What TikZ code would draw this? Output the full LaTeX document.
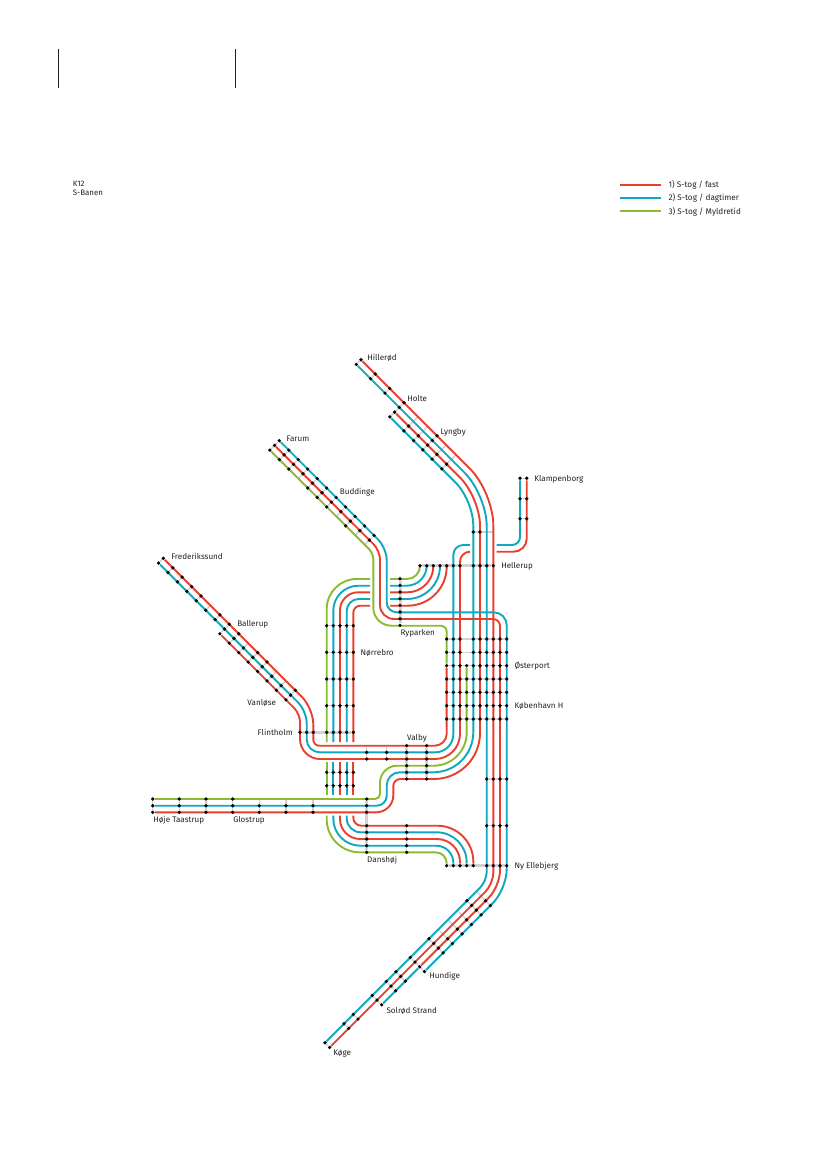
\documentclass[tikz,border=0pt]{standalone}
\usepackage{fontspec}
\setmainfont{Fira Sans}
\usetikzlibrary{positioning}
\definecolor{fastred}{HTML}{E8402F}
\definecolor{dagcyan}{HTML}{0FA8BE}
\definecolor{mykgreen}{HTML}{8DBB2F}
\definecolor{tiegrey}{HTML}{D2D2D2}
\definecolor{inkgrey}{HTML}{222222}
\pgfdeclarelayer{ties}
\pgfdeclarelayer{tracks}
\pgfsetlayers{ties,tracks,main}

\begin{document}
\begin{tikzpicture}[
  x=1pt, y=-1pt,
  stop/.style={circle, fill=black, inner sep=0pt, minimum size=3.7pt},
  tie/.style={draw=tiegrey, line width=1.5pt},
  band/.style={draw=tiegrey, line width=3pt},
  fasttrack/.style={draw=fastred, line width=1.9pt},
  dagtrack/.style={draw=dagcyan, line width=1.9pt},
  myktrack/.style={draw=mykgreen, line width=1.9pt},
  rc/.style={rounded corners=#1pt},
  lbl/.style={inner sep=0pt, text height=7.2pt, text depth=1.6pt, text=inkgrey, font=\fontsize{8.1}{9}\selectfont},
  headrule/.style={draw=inkgrey, line width=0.8pt}
]
\useasboundingbox (0,0) rectangle (827,1169);

% stops on the four diagonals
\foreach \k/\t/\last/\on in {0/361/1/{0,1}, 1/375.3/1/{0,1}, 2/389.7/1/{0,1}, 3/404/3/{0,1,2,3}, 4/418/3/{2,3}, 5/427.7/3/{2,3}, 6/437/3/{0,1,2,3}, 7/446.3/3/{2,3}, 8/456/3/{2,3}} {
  \foreach \i in {0,...,\last} {\coordinate (hil-\k-\i) at ({\t-4.714*\i},{\t-1.3+4.714*\i});}
  \foreach \i in \on {\node[stop] (hil-\k-\i) at (hil-\k-\i) {};}
  \begin{pgfonlayer}{ties}\draw[tie] (hil-\k-0) -- (hil-\k-\last);\end{pgfonlayer}
}
\foreach \k/\on in {0/{0,1,2}, 1/{0,1,2}, 2/{0,1,2}, 3/{0,1}, 4/{0,1,2}, 5/{0,1,2}, 6/{0,1,2}, 7/{0,1}, 8/{0,1,2}, 9/{0,1}, 10/{0,1}} {
  \foreach \i in {0,1,2} {\coordinate (far-\k-\i) at ({279.3+9.47*\k-4.714*\i},{440.7+9.47*\k+4.714*\i});}
  \foreach \i in \on {\node[stop] (far-\k-\i) at (far-\k-\i) {};}
  \begin{pgfonlayer}{ties}\draw[tie] (far-\k-0) -- (far-\k-2);\end{pgfonlayer}
}
\foreach \k/\last/\on in {0/1/{0,1}, 1/1/{0,1}, 2/1/{0,1}, 3/1/{0,1}, 4/1/{0,1}, 5/1/{1}, 6/1/{0,1}, 7/2/{0,1,2}, 8/2/{0,1,2}, 9/2/{1,2}, 10/2/{0,1,2}, 11/2/{0,1,2}, 12/2/{1,2}, 13/2/{1,2}, 14/2/{0,1,2}} {
  \foreach \i in {0,...,\last} {\coordinate (fre-\k-\i) at ({163.3+9.43*\k-4.714*\i},{558.3+9.43*\k+4.714*\i});}
  \foreach \i in \on {\node[stop] (fre-\k-\i) at (fre-\k-\i) {};}
  \begin{pgfonlayer}{ties}\draw[tie] (fre-\k-0) -- (fre-\k-\last);\end{pgfonlayer}
}
\foreach \k/\t/\last/\on in {0/325/1/{0,1}, 1/344/1/{0,1}, 2/353.3/1/{0,1}, 3/372.3/2/{0,1,2}, 4/386.3/2/{0,1,2}, 5/396/2/{0,1,2}, 6/410.3/3/{0,1,2,3}, 7/429/3/{0,1,2,3}, 8/438.3/3/{2,3}, 9/448/3/{2,3}, 10/457.3/3/{2,3}, 11/467/3/{0,1,2,3}, 12/476.3/3/{2,3}} {
  \foreach \i in {0,...,\last} {\coordinate (koe-\k-\i) at ({\t+4.714*\i},{1367.7-\t+4.714*\i});}
  \foreach \i in \on {\node[stop] (koe-\k-\i) at (koe-\k-\i) {};}
  \begin{pgfonlayer}{ties}\draw[tie] (koe-\k-0) -- (koe-\k-\last);\end{pgfonlayer}
}

% stops on the rows and columns
\foreach \r/\y/\first/\kind/\on in {0/639/0/tie/{0,1,2,4,5,6,7,8,9}, 1/652.3/0/tie/{0,1,2,4,5,6,7,8,9}, 2/665.7/0/tie/{0,...,9}, 3/679/0/tie/{0,...,9}, 4/692.3/0/tie/{0,...,9}, 5/705.7/0/tie/{0,...,9}, 6/719/0/tie/{0,...,9}, 7/779/6/tie/{6,...,9}, 8/825.7/6/tie/{6,...,9}, 9/865.7/0/band/{0,1,2,3,4,6,7,8,9}} {
  \foreach \c in \on {\node[stop] (est-\r-\c) at ({446.67+6.667*\c},\y) {};}
  \begin{pgfonlayer}{ties}\draw[\kind] (est-\r-\first) -- (est-\r-9);\end{pgfonlayer}
}
\foreach \r/\y in {0/625.7, 1/652.3, 2/679, 3/705.7, 4/732.3, 5/772.3, 6/785.7} {
  \foreach \c in {0,...,4} {\node[stop] (wes-\r-\c) at ({326.67+6.667*\c},\y) {};}
  \begin{pgfonlayer}{ties}\draw[tie] (wes-\r-0) -- (wes-\r-4);\end{pgfonlayer}
}
\foreach \c/\x in {0/300, 1/306.7, 2/313.3} {\node[stop] (fli-\c) at (\x,732.3) {};}
\foreach \c/\x in {0/420, 1/426.7, 2/433.3, 3/440, 4/446.7, 5/453.3, 6/460, 7/473.3, 8/480, 9/486.7, 10/493.3} {\node[stop] (hel-\c) at (\x,565.7) {};}
\foreach \r in {0,...,7} {\node[stop] (ryp-\r) at (400,{578.7+6.667*\r}) {};}
\foreach \r/\y in {0/478.3, 1/498.7, 2/518.7} {
  \node[stop] (kla-\r-0) at (520,\y) {};
  \node[stop] (kla-\r-1) at (526.7,\y) {};
  \begin{pgfonlayer}{ties}\draw[tie] (kla-\r-0) -- (kla-\r-1);\end{pgfonlayer}
}
\node[stop] (sto-0) at (473.3,532) {};
\node[stop] (sto-1) at (480,532) {};
\coordinate (sto-2) at (493.3,532);
\foreach \c/\x in {0/406.67, 1/426.67} {
  \foreach \r in {0,...,5} {\node[stop] (val-\c-\r) at (\x,{745.67+6.667*\r}) {};}
  \begin{pgfonlayer}{ties}\draw[band] (val-\c-0) -- (val-\c-5);\end{pgfonlayer}
}
\foreach \c/\x in {2/366.67, 3/386.67} {
  \coordinate (val-\c-0) at (\x,745.67);
  \node[stop] (val-\c-1) at (\x,752.33) {};
  \node[stop] (val-\c-2) at (\x,759) {};
  \begin{pgfonlayer}{ties}\draw[tie] (val-\c-0) -- (val-\c-2);\end{pgfonlayer}
}
\foreach \k/\x/\on in {0/152.7/{0,1,2}, 1/179.3/{0,1,2}, 2/206/{0,1,2}, 3/232.7/{0,1,2}, 4/259.3/{1,2}, 5/286/{1,2}, 6/313/{1,2}} {
  \foreach \r/\y in {0/799, 1/805.7, 2/812.3} {\coordinate (hoj-\k-\r) at (\x,\y);}
  \foreach \r in \on {\node[stop] (hoj-\k-\r) at (hoj-\k-\r) {};}
  \begin{pgfonlayer}{ties}\draw[tie] (hoj-\k-0) -- (hoj-\k-2);\end{pgfonlayer}
}
\foreach \r/\y in {0/799, 1/805.7, 2/812.3, 3/825.7, 4/832.3, 5/839, 6/845.7, 7/852.3} {\node[stop] (dan-\r) at (366.67,\y) {};}
\foreach \r/\y in {0/825.7, 1/832.3, 2/839, 3/845.7, 4/852.3} {\node[stop] (dal-\r) at (406.67,\y) {};}

\begin{pgfonlayer}{ties}
  \draw[band] (fli-0) -- (wes-4-4);
  \draw[band] (hel-0) -- (hel-10);
  \draw[band] (ryp-0) -- (ryp-7);
  \draw[tie] (sto-0) -- (sto-2);
  \draw[band] (dan-0) -- (dan-7);
  \draw[tie] (dal-0) -- (dal-4);
\end{pgfonlayer}

% gaps where a track passes under another one
\coordinate (kgd-a) at (520,545);
\coordinate (kgd-b) at (496.7,545);
\coordinate (kgr-a) at (526.7,551.7);
\coordinate (kgr-b) at (496.7,551.7);
\coordinate (hgd-a) at (470,545);
\coordinate (hgr-a) at (470,551.7);

\begin{pgfonlayer}{tracks}
  % Hillerod
  \draw[fasttrack] (hil-0-0) [rc=33] -- (493.3,492) [rc=11] -- (493.3,883.8) -- (koe-0-1);
  \draw[dagtrack] (hil-0-1) [rc=31] -- (486.7,494.8) [rc=9] -- (486.7,881) -- (koe-0-0);
  \draw[fasttrack] (hil-3-2) [rc=28] -- (480,497.5) [rc=46] -- (480,779) [rc=7] -- (393.3,779) [rc=17] -- (393.3,812.3) -- (hoj-0-2);
  \draw[dagtrack] (hil-3-3) [rc=25] -- (473.3,500.2) [rc=40] -- (473.3,772.3) [rc=13] -- (386.7,772.3) [rc=10] -- (386.7,805.7) -- (hoj-0-1);
  \draw[myktrack] (hoj-0-0) [rc=5] -- (380,799) [rc=17] -- (380,765.7) [rc=33] -- (466.7,765.7) -- (est-2-3);
  % Klampenborg and Frederikssund
  \draw[dagtrack] (kla-0-0) [rc=8] -- (kgd-a) -- (kgd-b);
  \draw[fasttrack] (kla-0-1) [rc=13] -- (kgr-a) -- (kgr-b);
  \draw[dagtrack] (hgd-a) [rc=10] -- (453.3,545) [rc=18] -- (453.3,752.3) [rc=13] -- (306.7,752.3) [rc=12] -- (306.7,711.1) -- (fre-0-1);
  \draw[fasttrack] (hgr-a) [rc=10] -- (460,551.7) [rc=25] -- (460,759) [rc=20] -- (300,759) [rc=8] -- (300,713.9) -- (fre-7-2);
  \draw[fasttrack] (fre-0-0) [rc=16] -- (313.3,708.3) [rc=6] -- (313.3,745.7) [rc=12] -- (446.7,745.7) -- (est-2-0);
  % Farum
  \draw[dagtrack] (far-0-0) [rc=12] -- (386.7,548.1) [rc=10] -- (386.7,612.3) [rc=13] -- (506.7,612.3) [rc=20] -- (506.7,889.3) -- (koe-6-3);
  \draw[fasttrack] (far-0-1) [rc=9] -- (380,550.6) [rc=14] -- (380,619) [rc=7] -- (500,619) [rc=16] -- (500,886.5) -- (koe-6-2);
  \draw[dagtrack] (koe-6-2) -- (koe-3-2);
  \draw[myktrack] (far-0-2) [rc=6] -- (373.3,553.3) [rc=18] -- (373.3,625.7) [rc=6] -- (446.7,625.7) -- (est-2-0);
  % Norrebro, three pieces each
  \draw[myktrack] (370,579) [rc=30] -- (326.7,579) -- (326.7,742);
  \draw[dagtrack] (370,585.7) [rc=25] -- (333.3,585.7) -- (333.3,742);
  \draw[fasttrack] (370,592.3) [rc=18] -- (340,592.3) -- (340,742);
  \draw[dagtrack] (370,599) [rc=12] -- (346.7,599) -- (346.7,742);
  \draw[fasttrack] (370,605.7) [rc=7] -- (353.3,605.7) -- (353.3,742);
  \draw[myktrack] (326.7,762) -- (326.7,795);
  \draw[dagtrack] (333.3,762) -- (333.3,795);
  \draw[fasttrack] (340,762) -- (340,795);
  \draw[dagtrack] (346.7,762) -- (346.7,795);
  \draw[fasttrack] (353.3,762) -- (353.3,795);
  \draw[myktrack] (326.7,815.7) [rc=33] -- (326.7,852.3) [rc=11] -- (446.7,852.3) -- (est-9-0);
  \draw[dagtrack] (333.3,815.7) [rc=27] -- (333.3,845.7) [rc=17] -- (453.3,845.7) -- (est-9-1);
  \draw[fasttrack] (340,815.7) [rc=20] -- (340,839) [rc=23] -- (460,839) -- (est-9-2);
  \draw[dagtrack] (346.7,815.7) [rc=14] -- (346.7,832.3) [rc=30] -- (466.7,832.3) -- (est-9-3);
  \draw[fasttrack] (353.3,815.7) [rc=8] -- (353.3,825.7) [rc=36] -- (473.3,825.7) -- (est-9-4);
  % towards Hellerup
  \draw[myktrack] (390,579) [rc=13] -- (420,579) -- (hel-0);
  \draw[dagtrack] (390,585.7) [rc=20] -- (426.7,585.7) -- (hel-1);
  \draw[fasttrack] (390,592.3) [rc=26] -- (433.3,592.3) -- (hel-2);
  \draw[dagtrack] (390,599) [rc=33] -- (440,599) -- (hel-3);
  \draw[fasttrack] (390,605.7) [rc=39] -- (446.7,605.7) -- (hel-4);
\end{pgfonlayer}

% station names
\node[lbl, right=4pt of hil-0-0, yshift=1.7pt] (hillerod) {Hillerød};
\node[lbl, right=1pt of hil-3-0, yshift=4pt] (holte) {Holte};
\node[lbl, right=1.3pt of hil-6-0, yshift=3.7pt] (lyngby) {Lyngby};
\node[lbl, right=5pt of far-0-0, yshift=2pt] (farum) {Farum};
\node[lbl, right=1.5pt of far-6-0, yshift=5.5pt] (buddinge) {Buddinge};
\node[lbl, right=5.3pt of kla-0-1, yshift=-0.7pt] (klampenborg) {Klampenborg};
\node[lbl, right=5.7pt of hel-10] (hellerup) {Hellerup};
\node[lbl, right=-1.7pt of ryp-7, yshift=-7pt] (ryparken) {Ryparken};
\node[lbl, right=5pt of wes-1-4] (norrebro) {Nørrebro};
\node[lbl, right=5.6pt of est-2-9] (osterport) {Østerport};
\node[lbl, right=5.6pt of est-5-9] (kobenhavn) {København H};
\node[lbl, right=5.6pt of est-9-9] (ellebjerg) {Ny Ellebjerg};
\node[lbl, right=-1.7pt of val-0-0, yshift=8pt] (valby) {Valby};
\node[lbl, left=5pt of fli-0] (flintholm) {Flintholm};
\node[lbl, left=7.6pt of fre-14-2, yshift=-2.7pt] (vanlose) {Vanløse};
\node[lbl, right=5.7pt of fre-7-0, yshift=1pt] (ballerup) {Ballerup};
\node[lbl, right=5.7pt of fre-0-0, yshift=1.6pt] (frederikssund) {Frederikssund};
\node[lbl, right=-1.7pt of hoj-0-2, yshift=-7pt] (taastrup) {Høje Taastrup};
\node[lbl, right=-1.7pt of hoj-3-2, yshift=-7pt] (glostrup) {Glostrup};
\node[lbl, right=-1.7pt of dan-7, yshift=-7pt] (danshoj) {Danshøj};
\node[lbl, right=2.7pt of koe-6-3, yshift=-4.6pt] (hundige) {Hundige};
\node[lbl, right=2.6pt of koe-3-2, yshift=-5.9pt] (solrod) {Solrød Strand};
\node[lbl, right=1.3pt of koe-0-1, yshift=-5.4pt] (koge) {Køge};

% head of the sheet
\coordinate (rulea-top) at (58.3,49);
\coordinate (rulea-bot) at (58.3,88.3);
\coordinate (ruleb-top) at (235.7,49);
\coordinate (ruleb-bot) at (235.7,88.3);
\draw[headrule] (rulea-top) -- (rulea-bot);
\draw[headrule] (ruleb-top) -- (ruleb-bot);
\node[lbl, anchor=west, font=\fontsize{7.9}{9}\selectfont] (k12) at (72.7,183.3) {K12};
\node[lbl, anchor=west, font=\fontsize{7.9}{9}\selectfont] (sbanen) at (72.7,192.3) {S-Banen};

% legend
\coordinate (keya-l) at (620,184.7);
\coordinate (keya-r) at (661,184.7);
\coordinate (keyb-l) at (620,198);
\coordinate (keyb-r) at (661,198);
\coordinate (keyc-l) at (620,211.3);
\coordinate (keyc-r) at (661,211.3);
\draw[fasttrack] (keya-l) -- (keya-r);
\draw[dagtrack] (keyb-l) -- (keyb-r);
\draw[myktrack] (keyc-l) -- (keyc-r);
\node[lbl, right=7.3pt of keya-r, font=\fontsize{8.2}{9}\selectfont] (keya) {1) S-tog / fast};
\node[lbl, right=7.3pt of keyb-r, font=\fontsize{8.2}{9}\selectfont] (keyb) {2) S-tog / dagtimer};
\node[lbl, right=7.3pt of keyc-r, font=\fontsize{8.2}{9}\selectfont] (keyc) {3) S-tog / Myldretid};
\end{tikzpicture}
\end{document}
